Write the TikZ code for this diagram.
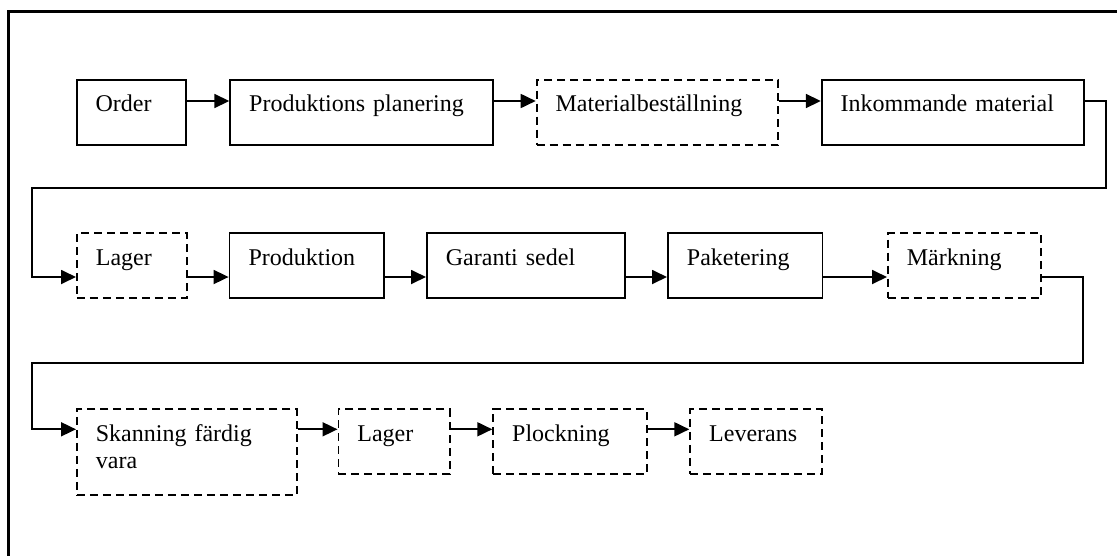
\documentclass[tikz,border=0pt]{standalone}
\usepackage{fontspec}
\setmainfont{Liberation Serif}
\usetikzlibrary{arrows.meta}
\newcommand{\flowfont}{\fontsize{24}{27.6}\selectfont}

\begin{document}
\begin{tikzpicture}[x=1pt,y=-1pt,
  flowbox/.style={draw,line width=1.8pt,anchor=north west,inner xsep=19pt,inner ysep=0pt,
    align=left,text height=32pt,text depth=33pt,font=\flowfont},
  dashbox/.style={flowbox,dash pattern=on 8pt off 5pt},
  flowline/.style={line width=1.8pt},
  flowarrow/.style={flowline,-{Triangle[length=15pt,width=14pt]}}]
  \useasboundingbox (0,0) rectangle (1117,555);
  \draw[line width=3.2pt] (8.6,560) -- (8.6,11.6) -- (1122,11.6);

  % row 1
  \begin{scope}[every node/.append style={text depth=32.3pt}]
    \node[flowbox,text width=71.7pt] (order) at (75.7,79) {Order};
    \node[flowbox,text width=224.8pt] (prodplan) at (229.3,79) {Produktions planering};
    \node[dashbox,text width=203.7pt] (matbest) at (535.7,79) {Materialbeställning};
    \node[flowbox,text width=224.5pt] (inkmat) at (820.8,79) {Inkommande material};
  \end{scope}

  % row 2
  \begin{scope}[every node/.append style={text height=31pt,text depth=35pt}]
    \node[dashbox,text width=72pt] (lagerA) at (76,232.3) {Lager};
    \node[flowbox,text width=116.6pt] (prod) at (228.6,232.3) {Produktion};
    \node[flowbox,text width=160pt] (garanti) at (426,232.3) {Garanti sedel};
    \node[flowbox,text width=116.6pt] (paket) at (667,232.3) {Paketering};
    \node[dashbox,text width=114.8pt] (markning) at (887,232.3) {Märkning};
  \end{scope}

  % row 3
  \node[dashbox,text width=181.7pt,text depth=54pt] (skanning) at (76,408.3) {Skanning färdig\\vara};
  \node[dashbox,text width=73.5pt] (lagerB) at (337.5,408.3) {Lager};
  \node[dashbox,text width=115.4pt] (plock) at (492.3,408.3) {Plockning};
  \node[dashbox,text width=93.7pt] (leverans) at (689.3,408.3) {Leverans};

  \coordinate (lvlA) at (0,101);
  \coordinate (lvlB) at (0,277);
  \coordinate (lvlC) at (0,429.3);
  \coordinate (rightA) at (1106,188);
  \coordinate (leftA) at (32,188);
  \coordinate (rightB) at (1083,363.3);
  \coordinate (leftB) at (32,363.3);

  \foreach \a/\b in {order/prodplan,prodplan/matbest,matbest/inkmat}
    \draw[flowarrow] (\a.east |- lvlA) -- (\b.west |- lvlA);
  \foreach \a/\b in {lagerA/prod,prod/garanti,garanti/paket,paket/markning}
    \draw[flowarrow] (\a.east |- lvlB) -- (\b.west |- lvlB);
  \foreach \a/\b in {skanning/lagerB,lagerB/plock,plock/leverans}
    \draw[flowarrow] (\a.east |- lvlC) -- (\b.west |- lvlC);

  \draw[flowarrow] (inkmat.east |- lvlA) -| (rightA) -- (leftA) |- (lagerA.west |- lvlB);
  \draw[flowarrow] (markning.east |- lvlB) -| (rightB) -- (leftB) |- (skanning.west |- lvlC);
\end{tikzpicture}
\end{document}
